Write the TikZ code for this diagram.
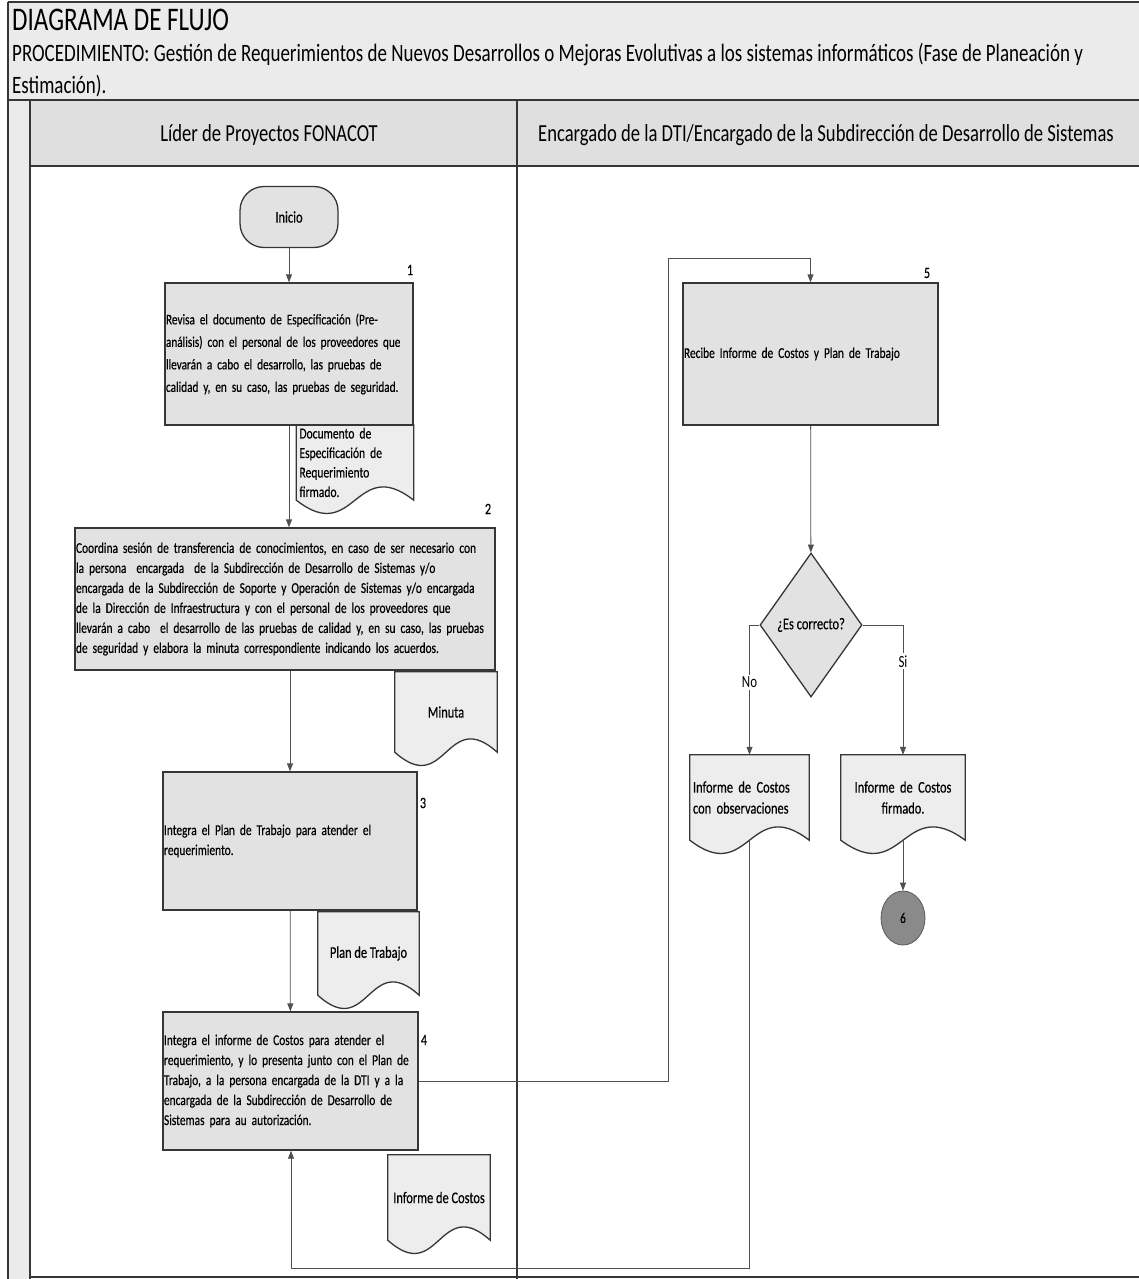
\documentclass[tikz,border=0pt]{standalone}
\usepackage{fontspec}
\setmainfont{Carlito}[FakeStretch=0.76]
\newfontfamily\bxf{Carlito}[FakeStretch=0.76,FakeBold=0.4]
\usetikzlibrary{arrows.meta,shadows,calc,shapes.geometric}
\pgfdeclarelayer{back}
\pgfdeclarelayer{bg}
\pgfsetlayers{back,bg,main}
\definecolor{boxfill}{HTML}{E2E2E2}
\definecolor{docfill}{HTML}{EDEDED}
\definecolor{hdrfill}{HTML}{EBEBEB}
\definecolor{linec}{HTML}{363636}
\definecolor{conn}{HTML}{505050}
\definecolor{circfill}{HTML}{8A8A8A}
\tikzset{
  frameline/.style={draw=linec, line width=1.2pt},
  procbox/.style={draw=linec, line width=1.3pt, fill=boxfill, rectangle, inner xsep=1pt, inner ysep=0pt,
    align=left, font=\bxf\fontsize{15}{20}\selectfont,
    drop shadow={shadow xshift=1.2pt, shadow yshift=-1.2pt, opacity=0.3}},
  docnode/.style={rectangle, inner xsep=3pt, inner ysep=0pt, font=\bxf\fontsize{16.3}{21}\selectfont},
  docshape/.style={draw=linec, line width=1.3pt, fill=docfill},
  startbox/.style={draw=linec, line width=1.3pt, fill=boxfill, rectangle, rounded corners=24pt,
    minimum width=98pt, minimum height=61pt, font=\bxf\fontsize{16.4}{18}\selectfont},
  decision/.style={diamond, draw=linec, line width=1.3pt, fill=boxfill, aspect=0.71, inner sep=0pt,
    minimum width=102pt, minimum height=144pt, font=\bxf\fontsize{16.4}{18}\selectfont},
  offpage/.style={ellipse, draw=gray!70!black, line width=0.8pt, fill=circfill, minimum width=44pt,
    minimum height=54pt, inner sep=0pt, font=\bxf\fontsize{14.7}{16}\selectfont},
  conline/.style={draw=conn, line width=0.8pt, -{Triangle[length=8pt,width=6pt]}},
  numlbl/.style={font=\bxf\fontsize{15.8}{17}\selectfont, inner sep=0pt},
  brlbl/.style={fill=white, inner sep=2pt, font=\fontsize{17}{19}\selectfont},
  hdrtext/.style={font=\fontsize{24.5}{27}\selectfont, inner sep=0pt}
}
\newcommand{\docbg}[1]{%
  \begin{pgfonlayer}{bg}
  \path[docshape] (#1.north west) -- (#1.north east) -- (#1.south east)
    .. controls ($(#1.south)+(0pt,46pt)$) and ($(#1.south)+(0pt,-46pt)$) .. (#1.south west) -- cycle;
  \end{pgfonlayer}}
\begin{document}
\begin{tikzpicture}[x=1pt,y=-1pt]
\useasboundingbox (0,0) rectangle (1139,1279);
% backgrounds
\begin{pgfonlayer}{back}
\fill[white] (0,0) rectangle (1139,1279);
\fill[hdrfill] (8,2) rectangle (1139,100);
\fill[hdrfill!95!black] (30,100) rectangle (1139,166);
\fill[hdrfill] (8,100) rectangle (30,1279);
\end{pgfonlayer}
% frame lines
\draw[frameline] (8,2) -- (1139,2);
\draw[frameline] (8,2) -- (8,1279);
\draw[frameline] (8,100) -- (1139,100);
\draw[frameline] (30,166) -- (1139,166);
\draw[frameline] (30,100) -- (30,1279);
\draw[frameline] (517,100) -- (517,1279);
\draw[frameline] (30,1277) -- (1139,1277);
% titles
\node[anchor=west, inner sep=0pt, font=\fontsize{33}{36}\selectfont] (title) at (12,20) {DIAGRAMA DE FLUJO};
\node[anchor=west, inner sep=0pt, font=\fontsize{25}{28}\selectfont] (proc1) at (12,55) {PROCEDIMIENTO: Gestión de Requerimientos de Nuevos Desarrollos o Mejoras Evolutivas a los sistemas informáticos (Fase de Planeación y};
\node[anchor=west, inner sep=0pt, font=\fontsize{25}{28}\selectfont] (proc2) at (12,86) {Estimación).};
\node[hdrtext] (lane1) at (269,135) {Líder de Proyectos FONACOT};
\node[hdrtext] (lane2) at (826,135) {Encargado de la DTI/Encargado de la Subdirección de Desarrollo de Sistemas};
% nodes left lane
\node[startbox] (inicio) at (289,217) {Inicio};
\node[procbox, text width=246pt, minimum height=142pt, font=\bxf\fontsize{14.8}{22.5}\selectfont] (b1) at (289,354)
  {Revisa el documento de Especificación (Pre-\\análisis) con el personal de los proveedores que\\llevarán a cabo el desarrollo, las pruebas de\\calidad y, en su caso, las pruebas de seguridad.};
\node[numlbl] (n1) at (410,270) {1};
\node[docnode, text width=111pt, minimum height=75pt, align=left, font=\bxf\fontsize{15.2}{19.5}\selectfont] (d1) at (355,462.5)
  {Documento de\\Especificación de\\Requerimiento\\firmado.};
\docbg{d1}
\node[procbox, text width=418pt, minimum height=142pt] (b2) at (285,599)
  {Coordina sesión de transferencia de conocimientos, en caso de ser necesario con\\la persona \ encargada \ de la Subdirección de Desarrollo de Sistemas y/o\\encargada de la Subdirección de Soporte y Operación de Sistemas y/o encargada\\de la Dirección de Infraestructura y con el personal de los proveedores que\\llevarán a cabo \ el desarrollo de las pruebas de calidad y, en su caso, las pruebas\\de seguridad y elabora la minuta correspondiente indicando los acuerdos.};
\node[numlbl] (n2) at (488,509) {2};
\node[docnode, minimum width=102pt, minimum height=80pt] (dmin) at (446,712) {Minuta};
\docbg{dmin}
\node[procbox, text width=252pt, minimum height=138pt] (b3) at (290,841)
  {Integra el Plan de Trabajo para atender el\\requerimiento.};
\node[numlbl] (n3) at (423,803) {3};
\node[docnode, minimum width=101pt, minimum height=83pt] (dplan) at (368.5,953.5) {Plan de Trabajo};
\docbg{dplan}
\node[procbox, text width=253pt, minimum height=138pt] (b4) at (290.5,1081)
  {Integra el informe de Costos para atender el\\requerimiento, y lo presenta junto con el Plan de\\Trabajo, a la persona encargada de la DTI y a la\\encargada de la Subdirección de Desarrollo de\\Sistemas para au autorización.};
\node[numlbl] (n4) at (424,1040) {4};
\node[docnode, minimum width=102pt, minimum height=85pt] (dcost) at (439,1197.5) {Informe de Costos};
\docbg{dcost}
% right lane
\node[procbox, text width=253pt, minimum height=142pt] (b5) at (810.5,354)
  {Recibe Informe de Costos y Plan de Trabajo};
\node[numlbl] (n5) at (927,273) {5};
\node[decision] (dia) at (811,625) {¿Es correcto?};
\node[docnode, text width=113pt, minimum height=85pt, align=left] (dobs) at (749.5,797.5)
  {Informe de Costos\\con observaciones};
\docbg{dobs}
\node[docnode, text width=118pt, minimum height=85pt, align=center] (dfirm) at (903,797.5)
  {Informe de Costos\\firmado.};
\docbg{dfirm}
\node[offpage] (c6) at (903,918) {6};
% connector helper coordinates
\coordinate (lx) at (668,258);
\coordinate (fb) at (291,1268);
% connectors
\draw[conline] (inicio) -- (b1);
\draw[conline] (b1.south) -- (b1.south |- b2.north);
\draw[conline] (b3.north |- b2.south) -- (b3.north);
\draw[conline] (b3) -- (b4);
\draw[conline] (b4.east) -| (lx) -| (b5.north);
\draw[conline] (b5) -- (dia);
\draw[conline] (dia.west) -| (dobs.north) node[brlbl, pos=0.72] (lno) {No};
\draw[conline] (dia.east) -| (dfirm.north) node[brlbl, pos=0.64] (lsi) {Si};
\draw[conline] (dfirm.south) -- (c6);
\draw[conline] (dobs.south) |- (fb) -- (fb |- b4.south);
\end{tikzpicture}
\end{document}
